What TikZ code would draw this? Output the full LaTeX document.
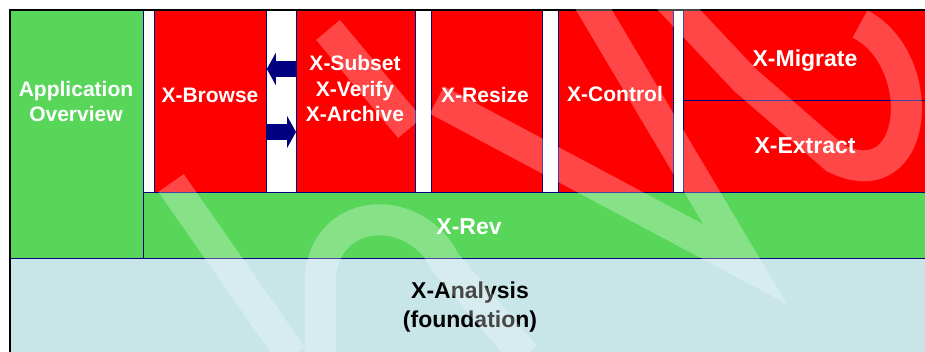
\documentclass[tikz,border=0pt]{standalone}
\usepackage{fontspec}
\setmainfont{Liberation Sans}
\usetikzlibrary{positioning,arrows.meta}
\definecolor{revgreen}{RGB}{88,214,90}
\definecolor{basecyan}{RGB}{200,230,232}
\definecolor{linenavy}{RGB}{0,0,128}

\begin{document}
\begin{tikzpicture}[x=1pt,y=-1pt,
  box/.style={draw=linenavy,line width=.8pt,anchor=north west,inner sep=0pt},
  redbox/.style={box,fill=red,minimum height=182pt},
  txt/.style={text=white,font=\bfseries\fontsize{21}{25.5}\selectfont,align=center,inner sep=0pt,anchor=base},
  bigtxt/.style={txt,font=\bfseries\fontsize{23}{29}\selectfont},
  pointer/.style={draw=linenavy,line width=16pt,-{Triangle[length=9pt,width=32pt]}},
  wm/.style={white,opacity=.28,line width=31pt}]
    \clip (0,0) rectangle (925,352);
    \useasboundingbox (0,0) rectangle (925,352);
    % bottom layers
    \node[box,fill=basecyan,minimum width=930pt,minimum height=120pt] (analysis) at (10,258) {};
    \node[box,fill=revgreen,minimum width=800pt,minimum height=66pt] (rev) at (143,192) {};
    \node[box,fill=revgreen,minimum width=133pt,minimum height=248pt] (overview) at (10,10) {};
    % applications
    \node[redbox,minimum width=112pt] (browse) at (154,10) {};
    \node[redbox,minimum width=119pt] (subset) at (296,10) {};
    \node[redbox,minimum width=111pt] (resize) at (431,10) {};
    \node[redbox,minimum width=115pt] (control) at (558,10) {};
    \node[redbox,minimum width=260pt,minimum height=90pt] (migrate) at (683,10) {};
    \node[redbox,minimum width=260pt,minimum height=92pt] (extract) at (683,100) {};
    % labels (base = last line)
    \node[txt] (overviewlbl) at (76,122) {Application\\Overview};
    \node[txt] (browselbl) at (210,103) {X-Browse};
    \node[txt] (subsetlbl) at (355,122) {X-Subset\\X-Verify\\X-Archive};
    \node[txt] (resizelbl) at (485,103) {X-Resize};
    \node[txt] (controllbl) at (615,102) {X-Control};
    \node[bigtxt] (migratelbl) at (805,66.5) {X-Migrate};
    \node[bigtxt] (extractlbl) at (805,154) {X-Extract};
    \node[bigtxt] (revlbl) at (469,235) {X-Rev};
    \node[bigtxt,text=black] (analysislbl) at (470,327) {X-Analysis\\(foundation)};
    % exchange between browse and subset
    \draw[pointer] (subset.west |- 0,69) -- (browse.east |- 0,69);
    \draw[pointer] (browse.east |- 0,132) -- (subset.west |- 0,132);
    \draw[line width=2pt] (10,400) -- (10,10) -- (1000,10);
    % watermark
    \draw[wm] (171,183) -- (292,356);
    \draw[wm] (320,356) -- (320,285) .. controls (320,205) and (415,200) .. (445,262) -- (525,356);
    \draw[wm] (328,30) -- (410,128);
    \draw[wm] (437,100) -- (745,264) -- (585,-5);
    \draw[wm] (665,-5) -- (745,80) -- (835,158) .. controls (920,200) and (930,60) .. (860,24);
\end{tikzpicture}
\end{document}
